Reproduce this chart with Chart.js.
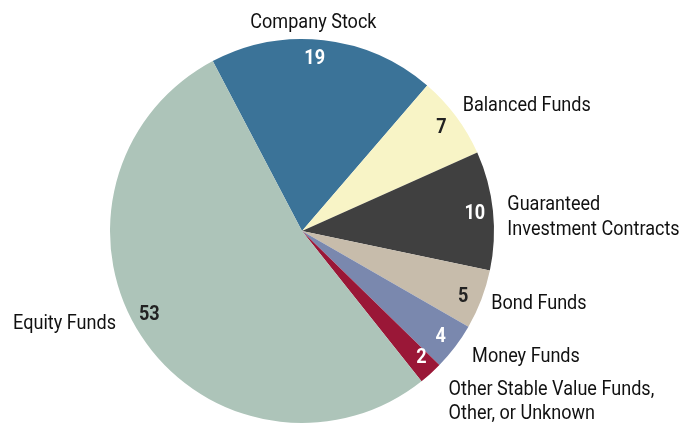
<!DOCTYPE html>
<html>
<head>
<meta charset="utf-8">
<script src="https://cdn.jsdelivr.net/npm/chart.js@4/dist/chart.umd.min.js"></script>
<style>
  html, body { margin: 0; padding: 0; background: #fff; }
  #wrap { width: 693px; height: 424px; }
</style>
</head>
<body>
<div id="wrap"><canvas id="chart" width="693" height="424"></canvas></div>
<script>
const categories = [
  ['Company Stock'],
  ['Balanced Funds'],
  ['Guaranteed', 'Investment Contracts'],
  ['Bond Funds'],
  ['Money Funds'],
  ['Other Stable Value Funds,', 'Other, or Unknown'],
  ['Equity Funds']
];
const values = [19, 7, 10, 5, 4, 2, 53];
const sliceColors = ['#3b7398', '#f8f4c6', '#404040', '#c7bcab', '#7a88ae', '#9a1737', '#adc4b9'];
const numberColors = ['#fff', '#222', '#fff', '#222', '#fff', '#fff', '#222'];

// outside label placement: angle shift (deg) from slice middle, distance past the rim (px)
const labelShift = [-3.4, -1.7, 1.6, -0.4, -1.2, 1.0, 7.1];
const labelGap = [19, 13, 14, 10, 18, 31, 15];
const numberShift = [-2.3, 0, 0, 1, 0, -1.3, 4.6];

const FONT = 'Roboto, "Liberation Sans", sans-serif';
const SQUEEZE = 0.86; // the original type is a condensed face

function drawText(ctx, text, x, y, align) {
  ctx.save();
  ctx.translate(x, y);
  ctx.scale(SQUEEZE, 1);
  ctx.textAlign = align;
  ctx.fillText(text, 0, 0);
  ctx.restore();
}

const pieLabels = {
  id: 'pieLabels',
  afterDatasetsDraw(chart) {
    const ctx = chart.ctx;
    const meta = chart.getDatasetMeta(0);
    ctx.save();
    ctx.textBaseline = 'middle';
    meta.data.forEach((arc, i) => {
      const { x, y, startAngle, endAngle, outerRadius } = arc.getProps(['x', 'y', 'startAngle', 'endAngle', 'outerRadius'], true);
      const mid = (startAngle + endAngle) / 2;

      // value inside the slice
      const na = mid + numberShift[i] * Math.PI / 180;
      const nr = outerRadius * 0.905;
      ctx.font = 'bold 21px ' + FONT;
      ctx.fillStyle = numberColors[i];
      drawText(ctx, String(values[i]), x + Math.cos(na) * nr, y + Math.sin(na) * nr + 1, 'center');

      // category name outside
      const la = mid + labelShift[i] * Math.PI / 180;
      const lr = outerRadius + labelGap[i];
      const lx = x + Math.cos(la) * lr;
      const ly = y + Math.sin(la) * lr + 2.5;
      const c = Math.cos(la);
      ctx.font = '21px ' + FONT;
      ctx.fillStyle = '#111';
      const align = Math.abs(c) < 0.2 ? 'center' : (c > 0 ? 'left' : 'right');
      const lines = categories[i];
      const lh = 24.5;
      lines.forEach((t, k) => {
        drawText(ctx, t, lx, ly + (k - (lines.length - 1) / 2) * lh, align);
      });
    });
    ctx.restore();
  }
};

const ctx = document.getElementById('chart').getContext('2d');
// eslint-disable-next-line no-unused-vars
const chart = new Chart(ctx, {
  type: 'pie',
  data: {
    labels: categories.map(l => l.join(' ')),
    datasets: [{
      data: values,
      backgroundColor: sliceColors,
      borderWidth: 0
    }]
  },
  options: {
    responsive: false,
    animation: false,
    rotation: -27.7,
    layout: { padding: { left: 110, right: 199, top: 39, bottom: 1 } },
    plugins: {
      legend: { display: false },
      tooltip: { enabled: false }
    }
  },
  plugins: [pieLabels]
});
</script>
</body>
</html>
